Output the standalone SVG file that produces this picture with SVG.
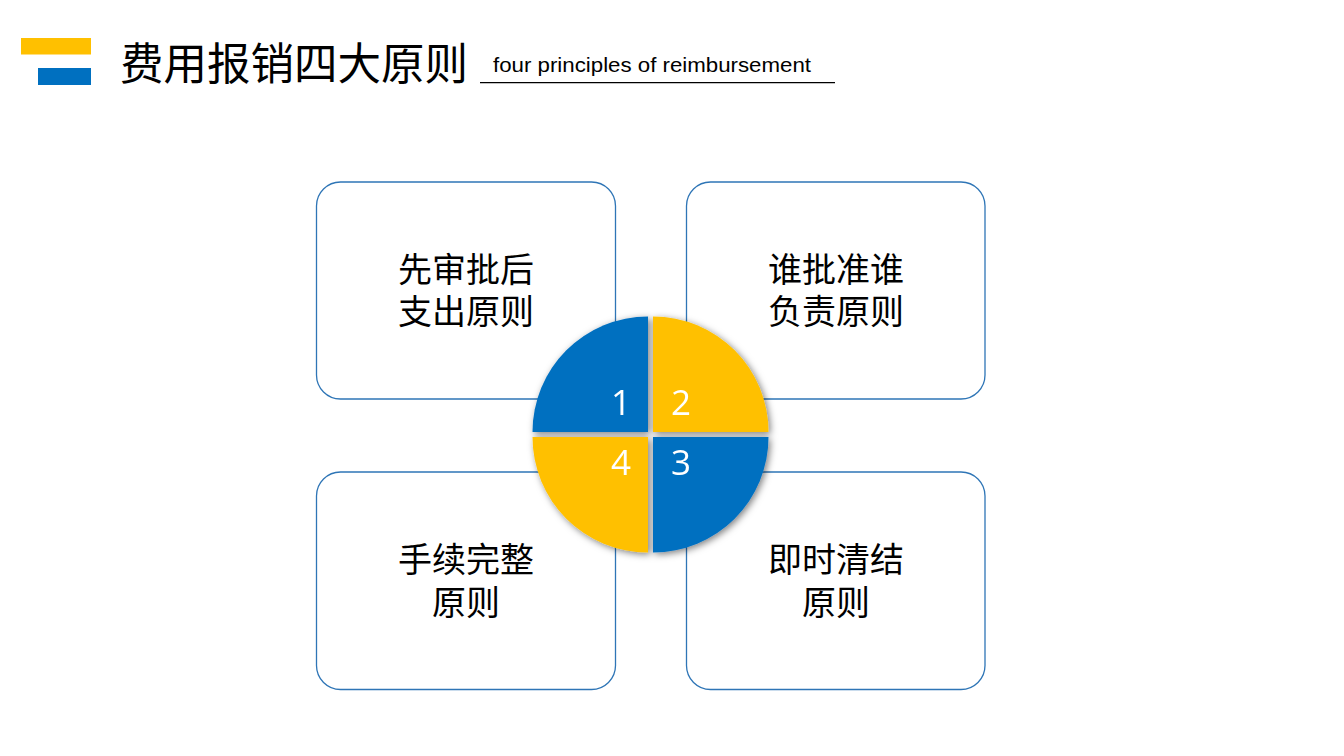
<svg xmlns="http://www.w3.org/2000/svg" width="1344" height="756" viewBox="0 0 1344 756">
  <defs>
    <style>
      .box { fill: #ffffff; stroke: #2E75B6; stroke-width: 1.3; }
      .cjk { font-family: "Noto Sans CJK SC", "Noto Sans", sans-serif; fill: #000000; }
      .lbl { font-size: 34px; text-anchor: middle; }
      .num { font-family: "Open Sans", "Liberation Sans", sans-serif; font-size: 35px; fill: #ffffff; text-anchor: middle; }
      .blue { fill: #0070C0; }
      .yellow { fill: #FFC000; }
    </style>
    <filter id="shadow" x="-20%" y="-20%" width="140%" height="140%">
      <feDropShadow dx="2" dy="2" stdDeviation="3.5" flood-color="#000000" flood-opacity="0.5"/>
    </filter>
  </defs>
  <rect width="1344" height="756" fill="#ffffff"/>

  <g id="header">
    <rect x="21" y="38" width="70" height="16.5" class="yellow"/>
    <rect x="38" y="68" width="53" height="17" class="blue"/>
    <text x="120" y="80" class="cjk" font-size="44" textLength="348" lengthAdjust="spacingAndGlyphs">费用报销四大原则</text>
    <text x="493" y="72" font-family="'Liberation Sans', Arial, sans-serif" font-size="20" fill="#000000" textLength="318" lengthAdjust="spacingAndGlyphs">four principles of reimbursement</text>
    <line x1="480" y1="82.7" x2="835" y2="82.7" stroke="#000000" stroke-width="1.3"/>
  </g>

  <g id="box1">
    <rect x="316.5" y="182" width="299" height="217" rx="24" class="box"/>
    <text class="cjk lbl"><tspan x="466" y="282">先审批后</tspan><tspan x="466" y="324">支出原则</tspan></text>
  </g>
  <g id="box2">
    <rect x="686.5" y="182" width="298.5" height="217" rx="24" class="box"/>
    <text class="cjk lbl"><tspan x="836" y="282">谁批准谁</tspan><tspan x="836" y="324">负责原则</tspan></text>
  </g>
  <g id="box4">
    <rect x="316.5" y="472" width="299" height="217.5" rx="24" class="box"/>
    <text class="cjk lbl"><tspan x="466" y="572">手续完整</tspan><tspan x="466" y="615">原则</tspan></text>
  </g>
  <g id="box3">
    <rect x="686.5" y="472" width="298.5" height="217.5" rx="24" class="box"/>
    <text class="cjk lbl"><tspan x="836" y="572">即时清结</tspan><tspan x="836" y="615">原则</tspan></text>
  </g>

  <g id="circle" filter="url(#shadow)">
    <g id="q1">
      <path d="M648,432 L532.5,432 A115.5,115.5 0 0 1 648,316.5 Z" class="blue"/>
      <text x="621" y="415" class="num">1</text>
    </g>
    <g id="q2">
      <path d="M653,432 L653,316.5 A115.5,115.5 0 0 1 768.5,432 Z" class="yellow"/>
      <text x="681" y="415" class="num">2</text>
    </g>
    <g id="q3">
      <path d="M653,437 L768.5,437 A115.5,115.5 0 0 1 653,552.5 Z" class="blue"/>
      <text x="681" y="475" class="num">3</text>
    </g>
    <g id="q4">
      <path d="M648,437 L648,552.5 A115.5,115.5 0 0 1 532.5,437 Z" class="yellow"/>
      <text x="621" y="475" class="num">4</text>
    </g>
  </g>

  <g id="connectors"></g>
</svg>
